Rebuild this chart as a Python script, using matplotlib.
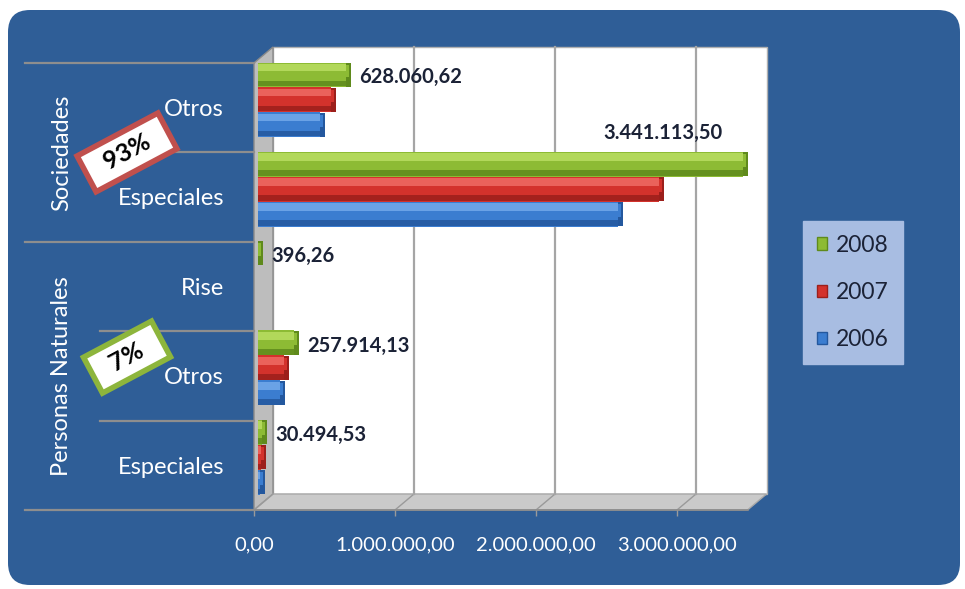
import matplotlib
matplotlib.use("Agg")
import matplotlib.pyplot as plt
from matplotlib.patches import FancyBboxPatch, Polygon, Patch
from matplotlib import transforms

plt.rcParams['font.family'] = ['Lato', 'DejaVu Sans']

# ---------------- data ----------------
categories = ["Otros", "Especiales", "Rise", "Otros", "Especiales"]
groups = ["Sociedades", "Personas Naturales"]
group_spans = [(0, 1), (2, 4)]
group_shares = ["93%", "7%"]
series_names = ["2008", "2007", "2006"]
values_2008 = [628060.62, 3441113.50, 396.26, 257914.13, 30494.53]
values_2007 = [520000, 2850000, 0, 190000, 22000]
values_2006 = [440000, 2560000, 0, 160000, 18000]
xticks = [0, 1000000, 2000000, 3000000]

series_values = [values_2008, values_2007, values_2006]
colors = ["#8DBB34", "#D3322C", "#3B7DD0"]
light = ["#B2D85A", "#EA625B", "#6AA2E6"]
dark = ["#5F8A1C", "#9C1F1B", "#24589E"]

def fmt(v):
    s = f"{v:,.2f}"
    return s.replace(",", "X").replace(".", ",").replace("X", ".")

W, H = 965, 589
fig = plt.figure(figsize=(W / 100, H / 100), dpi=100)
fig.patch.set_facecolor("white")

BG = "#2F5E97"
bg = FancyBboxPatch((0.08, 0.04), 9.52, 5.75,
                    boxstyle="round,pad=0,rounding_size=0.22",
                    transform=fig.dpi_scale_trans, facecolor=BG,
                    edgecolor="none", zorder=-10)
fig.patches.append(bg)

XMAX = 3.5e6
L, R, T, B = 254, 254 + 3.5 * 141, 63, 510
ax = fig.add_axes([L / W, (H - B) / H, (R - L) / W, (B - T) / H])
ax.set_zorder(1)
ax.set_xlim(0, XMAX)
ax.set_ylim(len(categories) - 0.5, -0.5)
ax.patch.set_visible(False)
for s in ax.spines.values():
    s.set_visible(False)
ax.set_yticks([])

DX = 19 / 141 * 1e6
DY = -16 / 89.4
y0, y1 = -0.5, len(categories) - 0.5

# back wall
ax.add_patch(Polygon([(DX, y0 + DY), (XMAX + DX, y0 + DY), (XMAX + DX, y1 + DY), (DX, y1 + DY)],
                     closed=True, facecolor="white", edgecolor="#B0B0B0", lw=1, zorder=1,
                     clip_on=False))
for v in xticks[1:]:
    ax.plot([v + DX, v + DX], [y0 + DY, y1 + DY], color="#A5A5A5", lw=1.6, zorder=1.5,
            clip_on=False)
# side wall
ax.add_patch(Polygon([(0, y0), (0, y1), (DX, y1 + DY), (DX, y0 + DY)],
                     closed=True, facecolor="#BDBDBD", edgecolor="#8A8A8A", lw=1, zorder=1.2,
                     clip_on=False))
# floor
ax.add_patch(Polygon([(0, y1), (XMAX, y1), (XMAX + DX, y1 + DY), (DX, y1 + DY)],
                     closed=True, facecolor="#CACACA", edgecolor="#A8A8A8", lw=1, zorder=1.2,
                     clip_on=False))
for v in xticks:
    ax.plot([v, v + DX], [y1, y1 + DY], color="#9A9A9A", lw=1, zorder=1.3, clip_on=False)
ax.plot([0, XMAX], [y1, y1], color="#8A8A8A", lw=1.2, zorder=1.4, clip_on=False)

# bars
h = 0.28
shift = -0.09
X0 = 0.025e6
CAP = 0.035e6
for k, vals in enumerate(series_values):
    off = (k - 1) * h + shift
    ys = [i + off for i in range(len(categories))]
    widths = [v for v in vals]
    nz = [v > 0 for v in vals]
    ax.barh(ys, widths, height=h, left=X0, color=colors[k], edgecolor="none", zorder=3)
    ax.barh([y - h * 0.28 for y in ys], widths, height=h * 0.3, left=X0,
            color=light[k], edgecolor="none", zorder=3.1)
    ax.barh([y + h * 0.36 for y in ys], widths, height=h * 0.22, left=X0,
            color=dark[k], edgecolor="none", zorder=3.1, alpha=0.85)
    capw = [CAP if z else 0 for z in nz]
    capl = [X0 + v for v in vals]
    ax.barh(ys, capw, height=h * 0.96, left=capl, color=dark[k], edgecolor="none", zorder=3.2)
    ax.barh([y - h * 0.15 for y in ys], [c * 0.6 for c in capw], height=h * 0.5, left=capl,
            color=colors[k], edgecolor="none", zorder=3.3)

# value labels (2008)
for i, v in enumerate(values_2008):
    yc = i - h + shift
    end = X0 + v + CAP
    if end + 0.8e6 > XMAX:
        ax.text(end - 0.18e6, yc - 0.35, fmt(v), ha="right", va="center",
                fontsize=14.5, fontweight="bold", color="#1B2236", zorder=5)
    else:
        ax.text(end + 0.06e6, yc + 0.03, fmt(v), ha="left", va="center",
                fontsize=14.5, fontweight="bold", color="#1B2236", zorder=5)

# x ticks
ax.set_xticks(xticks)
ax.set_xticklabels([fmt(v) for v in xticks])
ax.tick_params(axis="x", colors="#9A9A9A", length=4, width=1, pad=15, labelsize=14.5,
               labelcolor="white")

# category labels and divider lines
bt = transforms.blended_transform_factory(fig.transFigure, ax.transData)
for i, c in enumerate(categories):
    ax.text(224 / W, i + 0.02, c, transform=bt, ha="right", va="center",
            fontsize=17, color="white")
outer = {y0, 1.5, y1}
for b in [y0 + j for j in range(len(categories) + 1)]:
    xs = 25 if b in outer else 100
    ax.plot([xs / W, L / W], [b, b], transform=bt, color="#8E8E8E", lw=1.6,
            clip_on=False, zorder=2)

for g, (a, b), share, ec, ypos in zip(groups, group_spans, group_shares,
                                      ["#C0504D", "#8DB53C"], [0.5, 2.79]):
    ax.text(62 / W, (a + b) / 2, g, transform=bt, rotation=90, ha="center",
            va="center", fontsize=17, color="white")
    ax.text(127 / W, ypos, "  " + share + "  ", transform=bt, rotation=28,
            ha="center", va="center", fontsize=18, fontweight="bold", color="black",
            bbox=dict(boxstyle="square,pad=0.35", facecolor="white", edgecolor=ec, lw=4),
            zorder=6)

# legend
handles = [Patch(facecolor=colors[k], edgecolor=dark[k]) for k in range(3)]
leg = fig.legend(handles, series_names, loc="upper left",
                 bbox_to_anchor=(803 / W, 1 - 221 / H), fontsize=16.5,
                 frameon=True, fancybox=False, handlelength=0.45, handleheight=0.45,
                 handletextpad=0.4, labelspacing=1.15, borderpad=0.6,
                 borderaxespad=0, framealpha=1)
leg.get_frame().set_facecolor("#A8BDE2")
leg.get_frame().set_edgecolor("#A8BDE2")
for t in leg.get_texts():
    t.set_color("#1B2236")

fig.savefig("out.png", dpi=100, facecolor="white")
